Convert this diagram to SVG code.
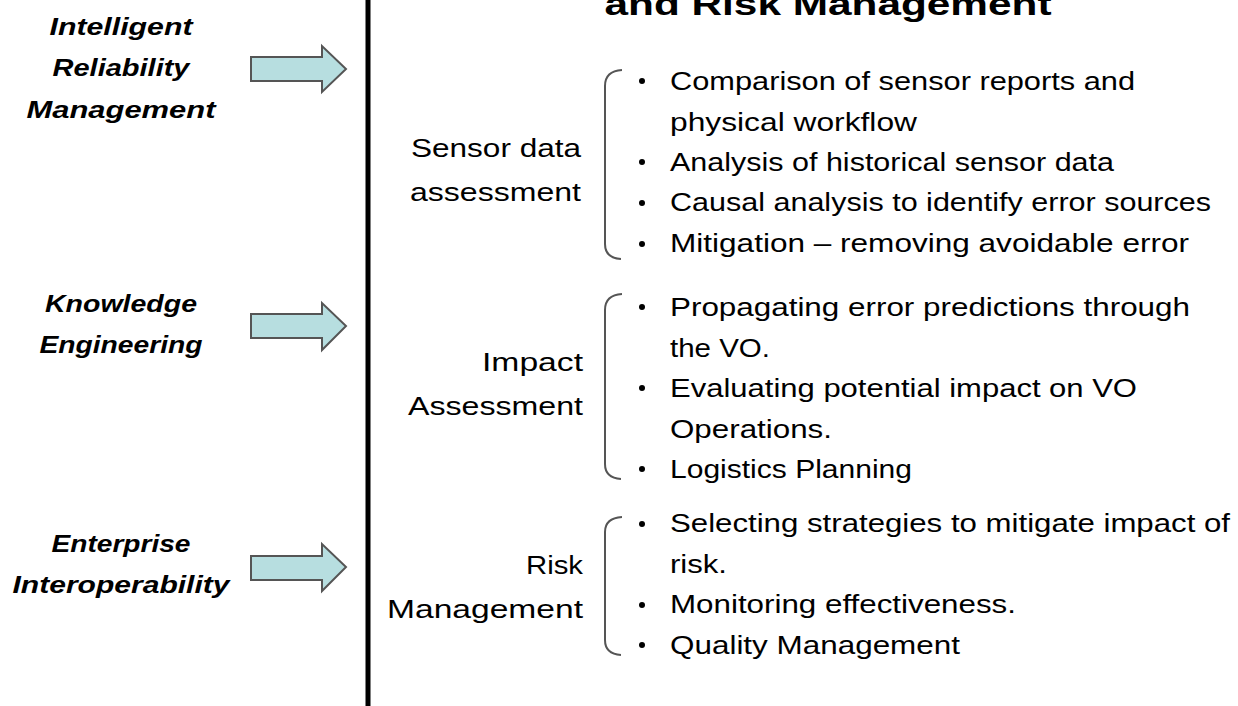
<svg xmlns="http://www.w3.org/2000/svg" width="1238" height="706" viewBox="0 0 1238 706">
<style>
.src{font-family:"Liberation Sans",Arial,sans-serif;font-weight:bold;font-style:italic;font-size:24px;fill:#000;text-anchor:middle}
.cat{font-family:"Liberation Sans",Arial,sans-serif;font-size:25px;fill:#000;text-anchor:end}
.item{font-family:"Liberation Sans",Arial,sans-serif;font-size:25px;fill:#000}
.title{font-family:"Liberation Sans",Arial,sans-serif;font-weight:bold;font-size:32px;fill:#000;text-anchor:middle}
.arrow{fill:#b7dee0;stroke:#555;stroke-width:2;stroke-linejoin:miter}
.brace{fill:none;stroke:#555;stroke-width:2}
.dot{fill:#000}
</style>
<rect width="1238" height="706" fill="#fff"/>
<text class="title" x="828" y="15" textLength="447" lengthAdjust="spacingAndGlyphs">and Risk Management</text>
<line x1="368" y1="0" x2="368" y2="706" stroke="#000" stroke-width="5"/>

<g id="src-irm">
<text class="src" x="121" y="35" textLength="143" lengthAdjust="spacingAndGlyphs">Intelligent</text>
<text class="src" x="121" y="76" textLength="137" lengthAdjust="spacingAndGlyphs">Reliability</text>
<text class="src" x="121" y="118" textLength="189" lengthAdjust="spacingAndGlyphs">Management</text>
</g>
<g id="src-ke">
<text class="src" x="121" y="312" textLength="152" lengthAdjust="spacingAndGlyphs">Knowledge</text>
<text class="src" x="121" y="353" textLength="163" lengthAdjust="spacingAndGlyphs">Engineering</text>
</g>
<g id="src-ei">
<text class="src" x="121" y="552" textLength="139" lengthAdjust="spacingAndGlyphs">Enterprise</text>
<text class="src" x="121" y="593" textLength="217" lengthAdjust="spacingAndGlyphs">Interoperability</text>
</g>

<g id="connectors">
<path class="arrow" d="M251,57 L322,57 L322,46 L346,69 L322,92 L322,81 L251,81 Z"/>
<path class="arrow" d="M251,314 L322,314 L322,303 L346,326 L322,350 L322,338 L251,338 Z"/>
<path class="arrow" d="M251,556 L322,556 L322,544 L346,567 L322,591 L322,580 L251,580 Z"/>
</g>

<g id="sensor">
<text class="cat" x="581" y="157" textLength="170" lengthAdjust="spacingAndGlyphs">Sensor data</text>
<text class="cat" x="581" y="201" textLength="171" lengthAdjust="spacingAndGlyphs">assessment</text>
<path class="brace" d="M622,70 Q605,71 605,86 L605,244 Q605,258 621,259"/>
<circle class="dot" cx="642" cy="81" r="3"/>
<circle class="dot" cx="642" cy="162" r="3"/>
<circle class="dot" cx="642" cy="203" r="3"/>
<circle class="dot" cx="642" cy="244" r="3"/>
<text class="item" x="670" y="90" textLength="465" lengthAdjust="spacingAndGlyphs">Comparison of sensor reports and</text>
<text class="item" x="670" y="131" textLength="247" lengthAdjust="spacingAndGlyphs">physical workflow</text>
<text class="item" x="670" y="171" textLength="444" lengthAdjust="spacingAndGlyphs">Analysis of historical sensor data</text>
<text class="item" x="670" y="211" textLength="541" lengthAdjust="spacingAndGlyphs">Causal analysis to identify error sources</text>
<text class="item" x="670" y="252" textLength="519" lengthAdjust="spacingAndGlyphs">Mitigation – removing avoidable error</text>
</g>

<g id="impact">
<text class="cat" x="583" y="371" textLength="101" lengthAdjust="spacingAndGlyphs">Impact</text>
<text class="cat" x="583" y="415" textLength="175" lengthAdjust="spacingAndGlyphs">Assessment</text>
<path class="brace" d="M622,294 Q605,295 605,310 L605,464 Q605,478 621,479"/>
<circle class="dot" cx="642" cy="307" r="3"/>
<circle class="dot" cx="642" cy="388" r="3"/>
<circle class="dot" cx="642" cy="469" r="3"/>
<text class="item" x="670" y="316" textLength="520" lengthAdjust="spacingAndGlyphs">Propagating error predictions through</text>
<text class="item" x="670" y="357" textLength="100" lengthAdjust="spacingAndGlyphs">the VO.</text>
<text class="item" x="670" y="397" textLength="467" lengthAdjust="spacingAndGlyphs">Evaluating potential impact on VO</text>
<text class="item" x="670" y="438" textLength="162" lengthAdjust="spacingAndGlyphs">Operations.</text>
<text class="item" x="670" y="478" textLength="242" lengthAdjust="spacingAndGlyphs">Logistics Planning</text>
</g>

<g id="risk">
<text class="cat" x="583" y="574" textLength="57" lengthAdjust="spacingAndGlyphs">Risk</text>
<text class="cat" x="583" y="618" textLength="196" lengthAdjust="spacingAndGlyphs">Management</text>
<path class="brace" d="M622,517 Q605,518 605,532 L605,640 Q605,654 621,655"/>
<circle class="dot" cx="642" cy="524" r="3"/>
<circle class="dot" cx="642" cy="605" r="3"/>
<circle class="dot" cx="642" cy="645" r="3"/>
<text class="item" x="670" y="532" textLength="560" lengthAdjust="spacingAndGlyphs">Selecting strategies to mitigate impact of</text>
<text class="item" x="670" y="573" textLength="57" lengthAdjust="spacingAndGlyphs">risk.</text>
<text class="item" x="670" y="613" textLength="346" lengthAdjust="spacingAndGlyphs">Monitoring effectiveness.</text>
<text class="item" x="670" y="654" textLength="290" lengthAdjust="spacingAndGlyphs">Quality Management</text>
</g>
</svg>
